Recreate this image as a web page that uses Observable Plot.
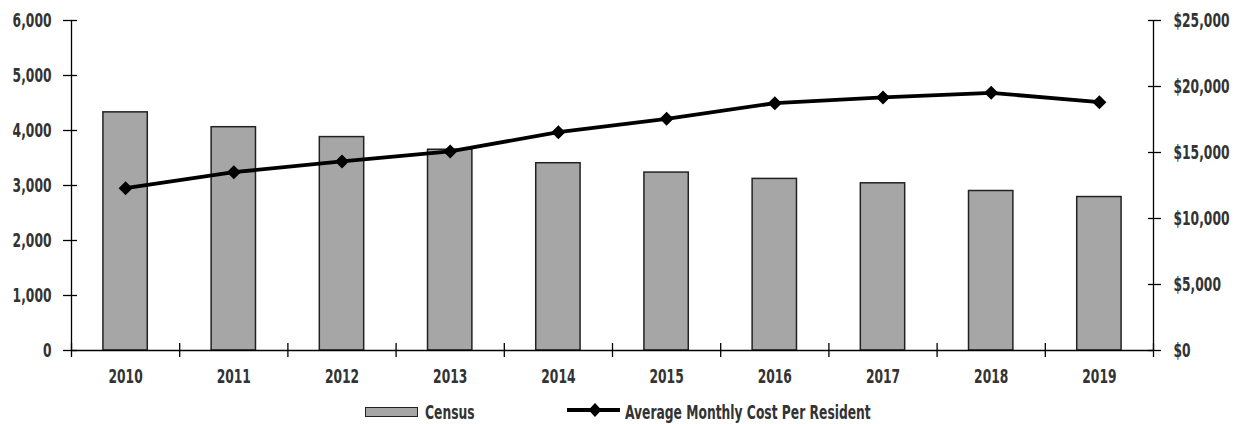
<!DOCTYPE html>
<html>
<head>
<meta charset="utf-8">
<script src="https://cdn.jsdelivr.net/npm/d3@7"></script>
<script src="https://cdn.jsdelivr.net/npm/@observablehq/plot@0.6"></script>
<style>
  html, body { margin: 0; padding: 0; background: #fff; }
  #wrap { position: relative; width: 1237px; height: 424px; font-family: "DejaVu Sans Condensed", "DejaVu Sans", sans-serif; font-stretch: condensed; }
  #legend { position: absolute; top: 400px; left: 0; width: 1237px; height: 24px; font-size: 19px; font-weight: bold; color: #333; }
  .item { position: absolute; top: 0; height: 24px; }
  .sw { position: absolute; top: 7px; width: 51px; height: 8px; background: #a6a6a6; border: 1.2px solid #222; }
  .lbl { position: absolute; top: 0; line-height: 24px; white-space: nowrap; transform: scaleX(0.72); transform-origin: left center; }
</style>
</head>
<body>
<div id="wrap">
  <div id="chart"></div>
  <div id="legend">
    <div class="item" style="left:365px"><div class="sw" style="left:0"></div><span class="lbl" style="left:60px">Census</span></div>
    <div class="item" style="left:567px">
      <svg width="54" height="20" style="position:absolute;left:0;top:1px">
        <line x1="0" y1="9" x2="53" y2="9" stroke="#000" stroke-width="4"></line>
        <path d="M28 2 L34.5 9 L28 16 L21.5 9 Z" fill="#000"></path>
      </svg>
      <span class="lbl" style="left:58px">Average Monthly Cost Per Resident</span>
    </div>
  </div>
</div>
<script>
const years = [2010, 2011, 2012, 2013, 2014, 2015, 2016, 2017, 2018, 2019];
const census = [4330, 4060, 3880, 3650, 3405, 3235, 3120, 3040, 2900, 2790];
const avgMonthlyCost = [12300, 13510, 14320, 15080, 16540, 17550, 18740, 19170, 19520, 18810];
const leftTicks = [0, 1000, 2000, 3000, 4000, 5000, 6000];
const rightTicks = [0, 5000, 10000, 15000, 20000, 25000];

const leftMax = 6000, rightMax = 25000;
const toLeft = v => v * leftMax / rightMax;
const barFrac = 0.41;
const textSqueeze = 0.72;

const rows = years.map((y, i) => ({year: y, census: census[i], cost: avgMonthlyCost[i]}));
const xMin = years[0] - 0.5, xMax = years[years.length - 1] + 0.5;
const boundaries = [...years.map(y => y - 0.5), xMax];

const ink = "#000";
const textColor = "#333";

const plot = Plot.plot({
  width: 1237,
  height: 392,
  marginLeft: 71,
  marginRight: 84,
  marginTop: 20,
  marginBottom: 42,
  style: {fontFamily: '"DejaVu Sans Condensed", "DejaVu Sans", sans-serif', fontSize: "19px", fontWeight: "bold", color: textColor, background: "#fff"},
  x: {domain: [xMin, xMax], axis: null},
  y: {domain: [0, leftMax], axis: null},
  marks: [
    Plot.rectY(rows, {x1: d => d.year - barFrac / 2, x2: d => d.year + barFrac / 2, y1: 0, y2: "census", fill: "#a6a6a6", stroke: "#222", strokeWidth: 1.5}),
    Plot.ruleX([xMin, xMax], {stroke: ink, strokeWidth: 1.3}),
    Plot.ruleY([0], {stroke: ink, strokeWidth: 1.3}),
    Plot.axisY({anchor: "left", label: null, ticks: leftTicks, tickSize: 8, tickPadding: 12, tickFormat: d3.format(","), stroke: ink, strokeWidth: 1.3, fill: textColor}),
    Plot.axisY({anchor: "left", label: null, ticks: leftTicks, tickSize: -6, text: null, stroke: ink, strokeWidth: 1.3}),
    Plot.axisY({anchor: "right", label: null, ticks: rightTicks.map(toLeft), tickSize: 7, tickPadding: 13, tickFormat: d => "$" + d3.format(",")(Math.round(d * rightMax / leftMax)), stroke: ink, strokeWidth: 1.3, fill: textColor}),
    Plot.axisY({anchor: "right", label: null, ticks: rightTicks.map(toLeft), tickSize: -6, text: null, stroke: ink, strokeWidth: 1.3}),
    Plot.axisX({anchor: "bottom", label: null, ticks: boundaries, tickSize: 7, text: null, stroke: ink, strokeWidth: 1.3}),
    Plot.axisX({anchor: "bottom", label: null, ticks: boundaries, tickSize: -7, text: null, stroke: ink, strokeWidth: 1.3}),
    Plot.axisX({anchor: "bottom", label: null, ticks: years, tickSize: 0, tickPadding: 19, tickFormat: d => String(d), fill: textColor}),
    Plot.line(rows, {x: "year", y: d => toLeft(d.cost), stroke: ink, strokeWidth: 3.8}),
    Plot.dot(rows, {x: "year", y: d => toLeft(d.cost), symbol: "diamond2", r: 6.3, fill: ink, stroke: "none"})
  ]
});
// squeeze tick labels horizontally about their anchor to imitate a condensed face
plot.querySelectorAll("text").forEach(t => {
  const x = parseFloat(t.getAttribute("x") || "0") || 0;
  const prev = t.getAttribute("transform") || "";
  t.setAttribute("transform", `${prev} translate(${x},0) scale(${textSqueeze},1) translate(${-x},0)`.trim());
});
document.getElementById("chart").appendChild(plot);
</script>
</body>
</html>
